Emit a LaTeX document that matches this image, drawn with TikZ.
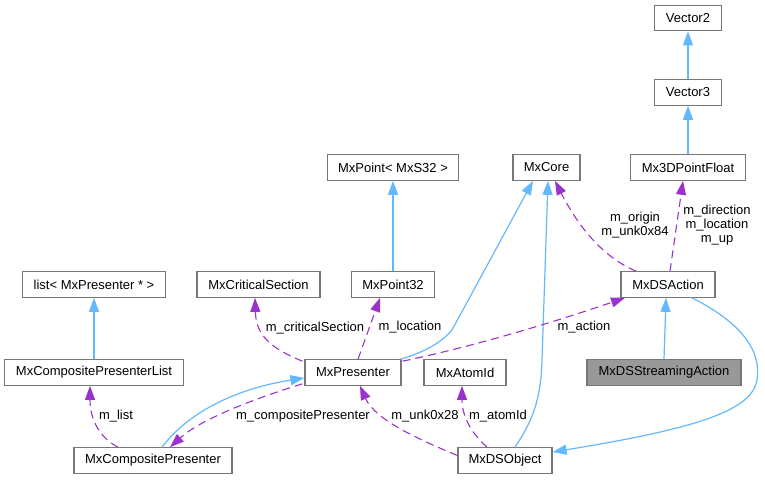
\documentclass[tikz,border=0pt]{standalone}
\usepackage{fontspec}
\setmainfont{Liberation Sans}
\usetikzlibrary{arrows.meta}
\definecolor{boxline}{HTML}{777777}
\definecolor{inh}{HTML}{63B8FF}
\definecolor{use}{HTML}{9A32CD}
\definecolor{hl}{HTML}{999999}
\tikzset{
  cls/.style={draw=boxline, line width=1.2pt, fill=white, minimum height=25.5pt, inner sep=0pt, font=\fontsize{13}{14}\selectfont, text=black},
  inhedge/.style={draw=inh, line width=1.2pt, -{Triangle[length=14pt,width=10pt]}},
  useedge/.style={draw=use, line width=1.1pt, dash pattern=on 8pt off 5pt, -{Triangle[length=14pt,width=10pt,fill=use]}},
  lbl/.style={font=\fontsize{13}{14}\selectfont, inner sep=0pt, align=center, text=black}
}
\begin{document}
\begin{tikzpicture}[x=1pt,y=-1pt]
\useasboundingbox (0,0) rectangle (765,479);
% nodes
\node[cls, minimum width=67pt] (V2) at (688,18) {Vector2};
\node[cls, minimum width=67pt] (V3) at (688,92.5) {Vector3};
\node[cls, minimum width=115pt] (M3D) at (688,167.5) {Mx3DPointFloat};
\node[cls, minimum width=67pt] (Core) at (546.5,167.5) {MxCore};
\node[cls, minimum width=131pt] (MxPt) at (393,167.5) {MxPoint< MxS32 >};
\node[cls, minimum width=143pt] (List) at (94,284.5) {list< MxPresenter * >};
\node[cls, minimum width=123pt] (CS) at (258.5,284.5) {MxCriticalSection};
\node[cls, minimum width=83pt] (P32) at (393,284.5) {MxPoint32};
\node[cls, minimum width=94pt] (DSA) at (668,284.5) {MxDSAction};
\node[cls, minimum width=179pt] (CPL) at (94,372.5) {MxCompositePresenterList};
\node[cls, minimum width=96pt] (Pres) at (353,372.5) {MxPresenter};
\node[cls, minimum width=82pt] (Atom) at (465,372.5) {MxAtomId};
\node[cls, minimum width=154pt, fill=hl] (DSSA) at (664,372.5) {MxDSStreamingAction};
\node[cls, minimum width=158pt] (CP) at (153,460.5) {MxCompositePresenter};
\node[cls, minimum width=94pt] (DSO) at (505,460.5) {MxDSObject};
% inheritance edges
\draw[inhedge] (V3.north) -- (V2.south);
\draw[inhedge] (M3D.north) -- (V3.south);
\draw[inhedge] (P32.north) -- (MxPt.south);
\draw[inhedge] (CPL.north) -- (List.south);
\draw[inhedge] (DSSA.north) -- ([xshift=-2pt]DSA.south);
\draw[inhedge] ([xshift=-1pt]Pres.north east) .. controls (425,352) and (442,342) .. (452,330) -- ([xshift=-13.5pt]Core.south);
\draw[inhedge] ([xshift=10pt]DSO.north) .. controls (532,422) and (541,400) .. (542,360) -- ([xshift=1.5pt]Core.south);
\draw[inhedge] ([xshift=24pt]DSA.south) .. controls (740,322) and (762,350) .. (757,380) .. controls (752,410) and (700,428) .. ([yshift=8.5pt]DSO.east);
\draw[inhedge] ([xshift=9pt]CP.north) .. controls (190,410) and (240,388) .. ([yshift=-5.5pt]Pres.west);
% usage edges
\draw[useedge] ([xshift=-32pt]DSA.north) .. controls (605,258) and (580,230) .. ([xshift=8.5pt]Core.south);
\node[lbl] (Lorigin) at (635,225) {m\_origin\\m\_unk0x84};
\draw[useedge] ([xshift=2pt]DSA.north) -- ([xshift=-5pt]M3D.south);
\node[lbl] (Ldir) at (717,225) {m\_direction\\m\_location\\m\_up};
\draw[useedge] ([xshift=1pt,yshift=-2pt]Pres.north east) .. controls (480,345) and (560,320) .. ([xshift=-43pt]DSA.south);
\node[lbl] (Laction) at (584,327) {m\_action};
\draw[useedge] ([xshift=5pt]Pres.north) -- ([xshift=-13pt]P32.south);
\node[lbl] (Lloc) at (410,327) {m\_location};
\draw[useedge] ([xshift=-2pt,yshift=-2pt]Pres.north west) .. controls (270,348) and (256,335) .. ([xshift=-3.5pt]CS.south);
\node[lbl] (Lcs) at (315,328) {m\_criticalSection};
\draw[useedge] ([xshift=-2pt,yshift=2pt]Pres.south west) .. controls (250,400) and (200,420) .. ([xshift=17pt]CP.north);
\node[lbl] (Lcp) at (303,416) {m\_compositePresenter};
\draw[useedge] ([xshift=-35pt]CP.north) .. controls (100,438) and (90,420) .. ([xshift=-4pt]CPL.south);
\node[lbl] (Llist) at (116,416) {m\_list};
\draw[useedge] ([yshift=5pt]DSO.west) .. controls (420,440) and (375,420) .. ([xshift=7pt]Pres.south);
\node[lbl] (Lunk) at (425,416) {m\_unk0x28};
\draw[useedge] ([xshift=-18pt]DSO.north) .. controls (470,432) and (462,415) .. ([xshift=-3pt]Atom.south);
\node[lbl] (Latom) at (498,416) {m\_atomId};
\end{tikzpicture}
\end{document}
